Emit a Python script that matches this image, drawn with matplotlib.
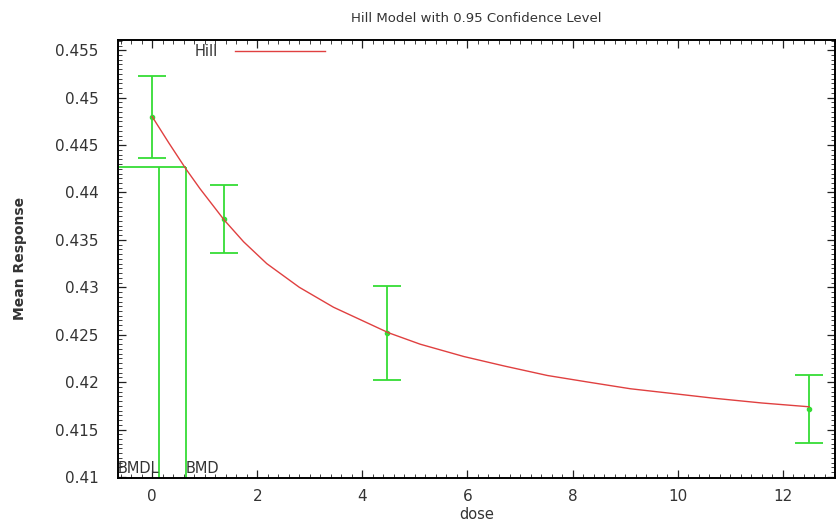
"""
Hill model fit with 0.95 confidence level (BMD plot)
"""

import matplotlib
matplotlib.use('Agg')
import matplotlib.pyplot as plt
from matplotlib.ticker import MultipleLocator, FuncFormatter

# observed group means with confidence limits
dose = [0, 1.37, 4.46, 12.5]
mean_resp = [0.448, 0.4372, 0.4252, 0.4172]
upper = [0.4523, 0.4408, 0.4301, 0.4207]
lower = [0.4436, 0.4336, 0.4202, 0.4136]

# fitted Hill curve
curve_dose = [0, 0.32, 0.64, 0.91, 1.37, 1.74, 2.18, 2.8, 3.45, 4.5, 5.1, 5.93,
              6.7, 7.52, 8.3, 9.1, 9.9, 10.69, 11.6, 12.5]
curve_resp = [0.448, 0.4452, 0.4425, 0.4404, 0.4371, 0.4348, 0.4325, 0.4300,
              0.4279, 0.4252, 0.4240, 0.4227, 0.4217, 0.4207, 0.4200, 0.4193,
              0.4188, 0.4183, 0.4178, 0.4174]

bmd = 0.64
bmdl = 0.13
bmd_resp = 0.4427

xlim = (-0.65, 13.0)
ylim = (0.4099, 0.4561)

green = '#35dc35'
red = '#e04040'
txt = '#333333'
font = 'DejaVu Sans'

fig = plt.figure(figsize=(8.37, 5.24), dpi=100)
ax = fig.add_axes([0.141, 0.088, 0.857, 0.836])

ax.plot(curve_dose, curve_resp, color=red, lw=1.0, label='Hill', zorder=3)

yerr = [[m - lo for m, lo in zip(mean_resp, lower)],
        [up - m for m, up in zip(mean_resp, upper)]]
ax.errorbar(dose, mean_resp, yerr=yerr, fmt='o', ms=3, color=green,
            ecolor=green, elinewidth=1.3, capsize=10, capthick=1.3, zorder=2)

# BMD / BMDL markers
ax.hlines(bmd_resp, xlim[0], bmd, color=green, lw=1.3)
ax.vlines([bmdl, bmd], ylim[0], bmd_resp, color=green, lw=1.3)
ax.text(bmdl, 0.4104, 'BMDL', ha='right', va='baseline', fontsize=10.5,
        color=txt, family=font)
ax.text(bmd, 0.4104, 'BMD', ha='left', va='baseline', fontsize=10.5,
        color=txt, family=font)

ax.set_xlim(*xlim)
ax.set_ylim(*ylim)

ax.xaxis.set_major_locator(MultipleLocator(2))
ax.xaxis.set_minor_locator(MultipleLocator(0.2))
ax.yaxis.set_major_locator(MultipleLocator(0.005))
ax.yaxis.set_minor_locator(MultipleLocator(0.0005))
ax.yaxis.set_major_formatter(FuncFormatter(lambda v, p: '%g' % round(v, 4)))

ax.tick_params(which='both', direction='in', top=True, right=True,
               colors='#222222', labelcolor=txt, labelsize=11)
ax.tick_params(which='major', length=6, width=0.9)
ax.tick_params(which='minor', length=3, width=0.6)
ax.tick_params(axis='y', which='both', pad=14)
ax.tick_params(axis='x', which='both', pad=8)
for lab in ax.get_xticklabels() + ax.get_yticklabels():
    lab.set_family(font)
for s in ax.spines.values():
    s.set_linewidth(1.4)

ax.set_title('Hill Model with 0.95 Confidence Level', fontsize=9.5, color=txt,
             family=font, pad=13)
ax.set_xlabel('dose', fontsize=10.5, color=txt, family=font, labelpad=2)
ax.set_ylabel('Mean Response', fontsize=10, color=txt, family=font,
              fontweight='bold', labelpad=20)

leg = ax.legend(loc='upper left', bbox_to_anchor=(0.088, 1.02), frameon=False,
                markerfirst=False, handlelength=6.2, handletextpad=1.2,
                prop={'family': font, 'size': 10.5})
for t in leg.get_texts():
    t.set_color(txt)

fig.savefig('out.png', dpi=100)
